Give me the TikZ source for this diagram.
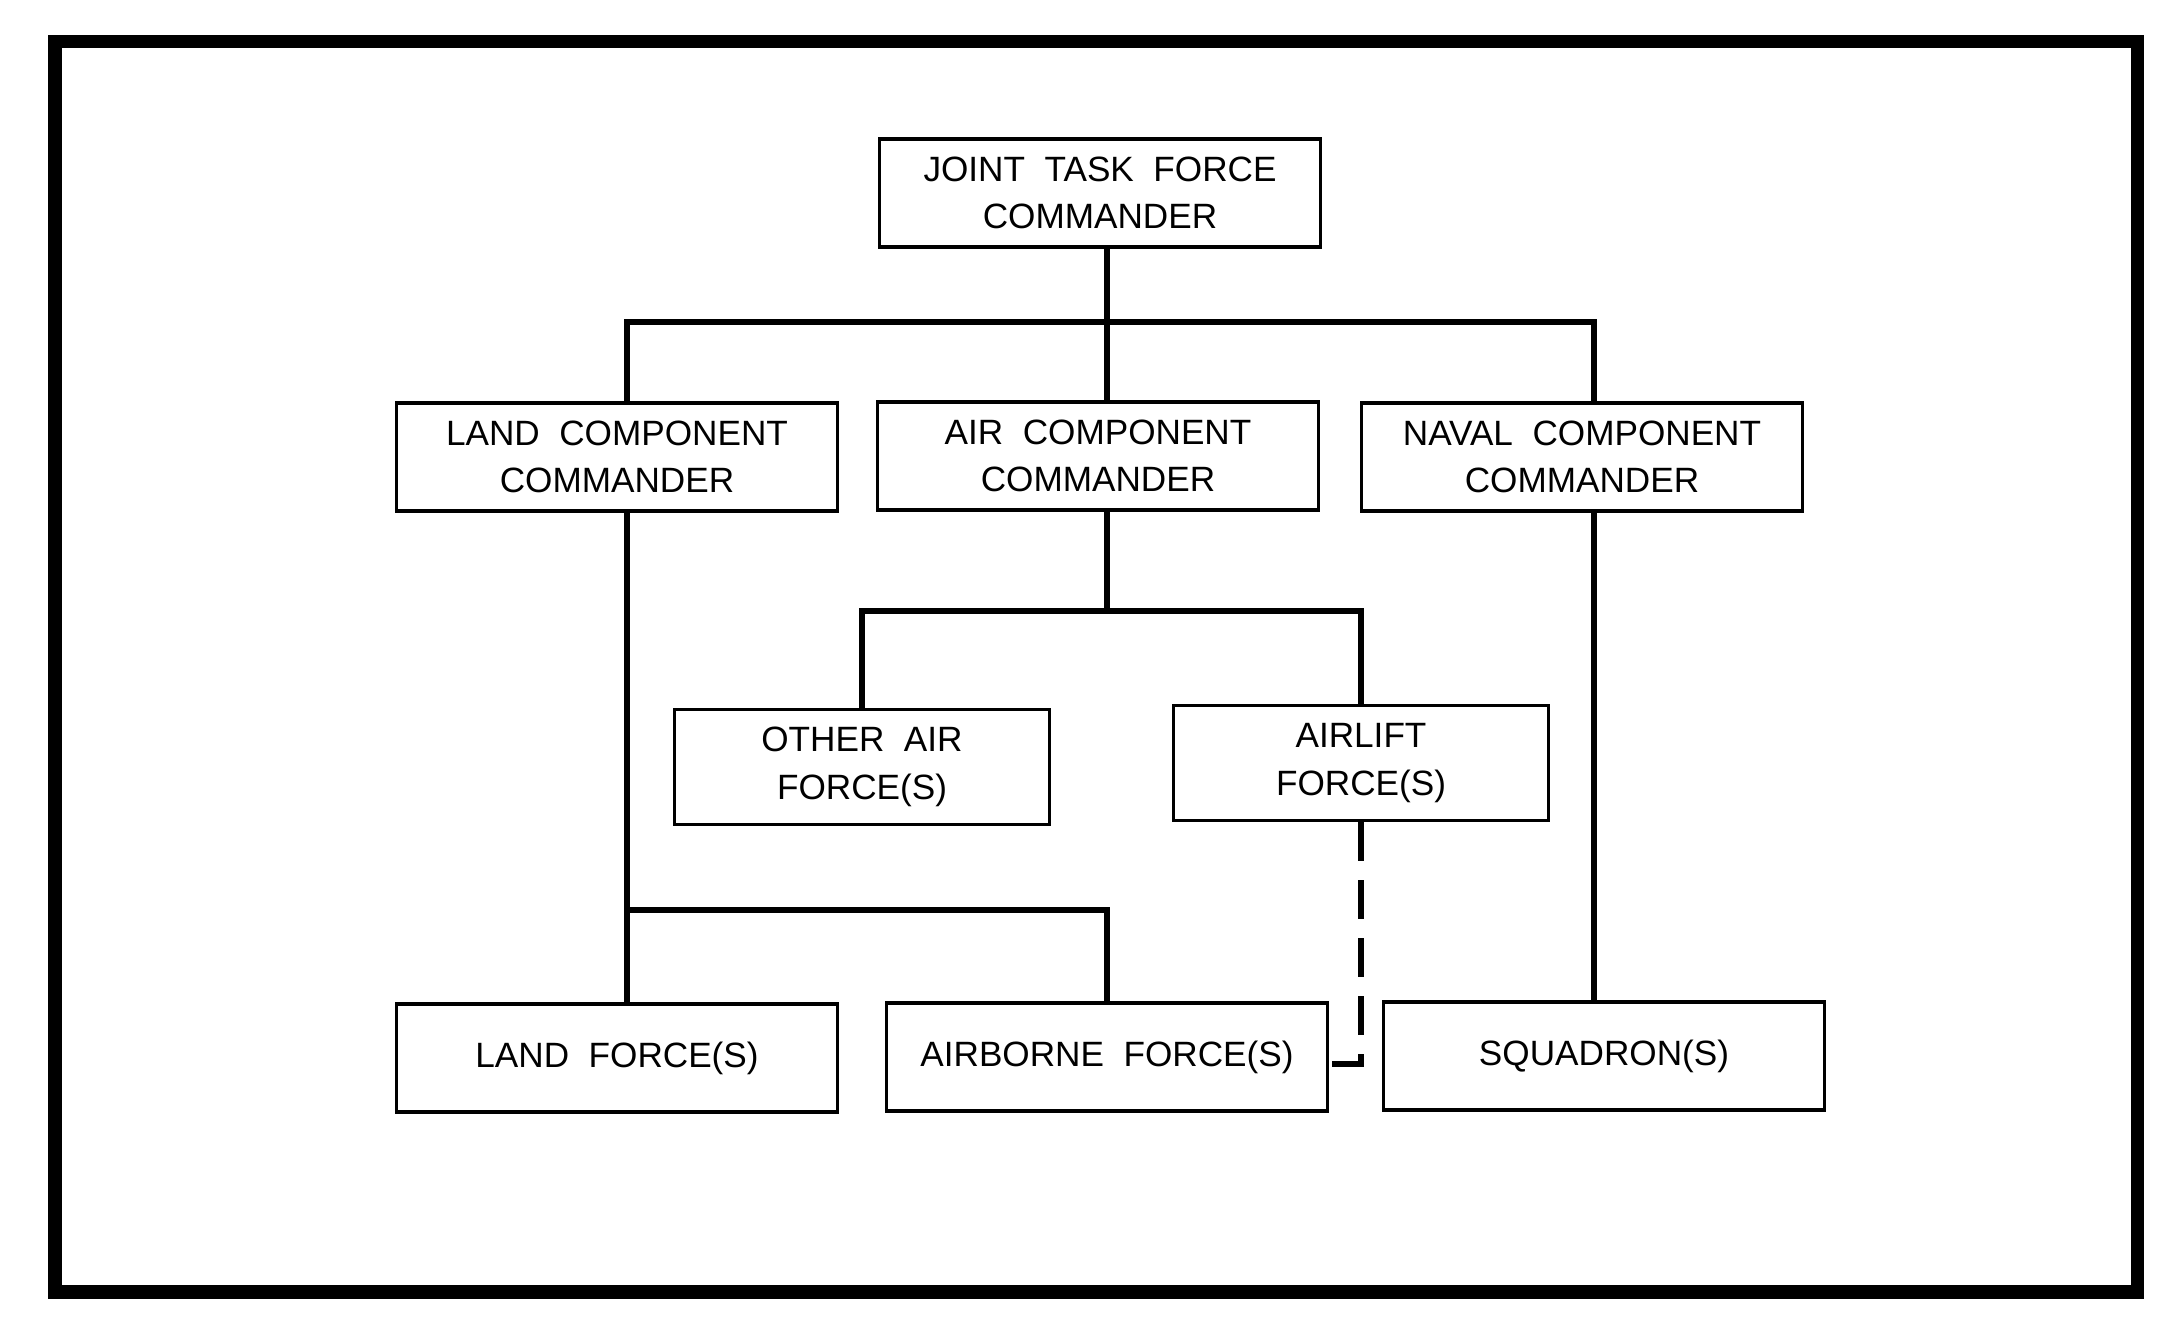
\documentclass[tikz,border=0pt]{standalone}
\usepackage{fontspec}
\setmainfont{Liberation Sans}[WordSpace=2]

\begin{document}
\begin{tikzpicture}[x=0.01cm, y=-0.01cm,
    unit/.style={draw, line width=0.9pt, align=center, inner sep=0pt,
        minimum width=4.4cm, minimum height=1.08cm,
        font=\fontsize{10}{13.5}\selectfont},
    subunit/.style={unit, minimum width=3.75cm, minimum height=1.15cm},
    link/.style={line width=1.8pt},
    support/.style={link, dash pattern=on 11pt off 5.5pt}]
    \useasboundingbox (0,0) rectangle (2166,1322);
    \draw[line width=3.7pt] (55,42) rectangle (2137,1292);

    % Command level
    \node[unit] (jtf) at (1100,193) {JOINT TASK FORCE\\COMMANDER};

    % Component commanders
    \node[unit] (land) at (617,457) {LAND COMPONENT\\COMMANDER};
    \node[unit] (air) at (1098,456) {AIR COMPONENT\\COMMANDER};
    \node[unit] (naval) at (1582,457) {NAVAL COMPONENT\\COMMANDER};

    % Air forces
    \node[subunit] (otherair) at (862,767) {OTHER AIR\\FORCE(S)};
    \node[subunit] (airlift) at (1361,763) {AIRLIFT\\FORCE(S)};

    % Forces
    \node[unit] (landforce) at (617,1058) {LAND FORCE(S)};
    \node[unit] (airborne) at (1107,1057) {AIRBORNE FORCE(S)};
    \node[unit] (squadron) at (1604,1056) {SQUADRON(S)};

    % Connectors
    \coordinate (topbus) at (1107,322);
    \coordinate (airbus) at (1107,611);
    \coordinate (landbus) at (627,910);

    \draw[link] (jtf.south -| topbus) -- (air.north -| topbus);
    \draw[link] ([xshift=1mm]land.north) |- (topbus) -| ([xshift=1.2mm]naval.north);
    \draw[link] (air.south -| airbus) -- (airbus);
    \draw[link] (otherair.north) |- (airbus) -| (airlift.north);
    \draw[link] ([xshift=1mm]land.south) -- ([xshift=1mm]landforce.north);
    \draw[link] (landbus) -| (airborne.north);
    \draw[link] ([xshift=1.2mm]naval.south) -- ([xshift=1.2mm]naval.south |- squadron.north);
    \draw[support] (airlift.south) |- ([yshift=-0.7mm]airborne.east);
\end{tikzpicture}
\end{document}
